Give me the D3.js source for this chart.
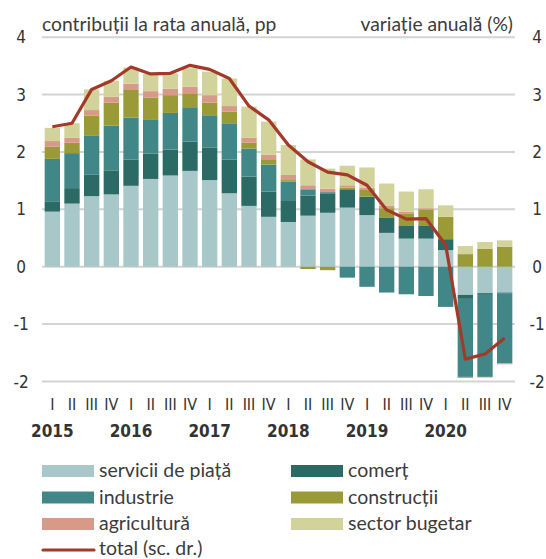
<!DOCTYPE html>
<html>
<head>
<meta charset="utf-8">
<script src="https://cdn.jsdelivr.net/npm/d3@7"></script>
<style>
  body { margin: 0; background: #fff; }
  text { fill: #333; }
  .tick-lbl { font-family: "Liberation Sans Narrow", "DejaVu Sans Condensed", sans-serif; }
  .ttl, .leg { font-family: Lato, "Open Sans", sans-serif; fill: #3c3c3c; }
</style>
</head>
<body>
<script>
var w = 546, h = 559;

var quarters = ["I","II","III","IV","I","II","III","IV","I","II","III","IV",
                "I","II","III","IV","I","II","III","IV","I","II","III","IV"];
var years = ["2015","2016","2017","2018","2019","2020"];

var servicii    = [0.96,1.10,1.23,1.26,1.41,1.53,1.59,1.67,1.51,1.28,1.06,0.87,0.78,0.89,0.94,1.03,0.90,0.59,0.49,0.49,0.29,-0.49,-0.46,-0.45];
var comert      = [0.17,0.27,0.38,0.42,0.46,0.44,0.45,0.51,0.57,0.59,0.51,0.44,0.38,0.35,0.34,0.32,0.32,0.27,0.22,0.22,0.19,-0.07,-0.03,-0.02];
var industrie   = [0.75,0.61,0.68,0.78,0.73,0.60,0.64,0.60,0.56,0.63,0.49,0.47,0.32,0.11,0.02,-0.19,-0.35,-0.45,-0.48,-0.51,-0.70,-1.36,-1.43,-1.21];
var constructii = [0.21,0.18,0.34,0.40,0.48,0.38,0.31,0.23,0.22,0.20,0.10,0.08,0.03,-0.04,-0.06,0.03,0.13,0.16,0.22,0.29,0.39,0.22,0.31,0.35];
var agricultura = [0.10,0.09,0.10,0.10,0.11,0.11,0.11,0.13,0.13,0.10,0.09,0.09,0.09,0.07,0.06,0.04,0.03,0.04,0.03,0.02,0.00,-0.02,-0.01,-0.02];
var buget       = [0.23,0.25,0.36,0.28,0.28,0.30,0.27,0.32,0.41,0.48,0.54,0.58,0.52,0.45,0.35,0.34,0.35,0.39,0.35,0.33,0.20,0.14,0.12,0.11];
var total       = [2.44,2.50,3.09,3.24,3.48,3.36,3.37,3.51,3.44,3.28,2.80,2.56,2.12,1.83,1.65,1.60,1.42,0.99,0.83,0.84,0.38,-1.61,-1.52,-1.24];

var yTicks = [4,3,2,1,0,-1,-2];

var series = [
  {key:"servicii", name:"servicii de piață", color:"#a7c7c8", vals:servicii},
  {key:"comert", name:"comerț", color:"#2c6a66", vals:comert},
  {key:"industrie", name:"industrie", color:"#428787", vals:industrie},
  {key:"constructii", name:"construcții", color:"#9a9b37", vals:constructii},
  {key:"agricultura", name:"agricultură", color:"#d89a88", vals:agricultura},
  {key:"buget", name:"sector bugetar", color:"#d2d29b", vals:buget}
];

// table for d3.stack
var rows = quarters.map(function(q, i){
  var r = {i:i};
  series.forEach(function(s){ r[s.key] = s.vals[i]; });
  return r;
});

var svg = d3.select("body").append("svg")
  .attr("width", w)
  .attr("height", h);

var x = d3.scaleBand()
  .domain(d3.range(quarters.length))
  .range([42.5, 514.5])
  .paddingInner(0.22)
  .paddingOuter(0.11);

var y = d3.scaleLinear().domain([-2, 4]).range([381.5, 37.2]);

// grid
svg.append("g").selectAll("line")
  .data(yTicks)
  .enter().append("line")
  .attr("x1", 42).attr("x2", 515)
  .attr("y1", function(d){ return y(d); })
  .attr("y2", function(d){ return y(d); })
  .style("stroke", "#d3d3d3")
  .style("stroke-width", 2);

// y labels left / right
svg.append("g").selectAll("text")
  .data(yTicks).enter().append("text")
  .attr("class", "tick-lbl")
  .attr("x", 21).attr("y", function(d){ return y(d) + 6; })
  .attr("text-anchor", "middle")
  .style("font-size", "17px")
  .text(function(d){ return d; });

svg.append("g").selectAll("text")
  .data(yTicks).enter().append("text")
  .attr("class", "tick-lbl")
  .attr("x", 537).attr("y", function(d){ return y(d) + 6; })
  .attr("text-anchor", "middle")
  .style("font-size", "17px")
  .text(function(d){ return d; });

// titles
svg.append("text").attr("class", "ttl")
  .attr("x", 42).attr("y", 31)
  .style("font-size", "19.3px")
  .text("contribuții la rata anuală, pp");
svg.append("text").attr("class", "ttl")
  .attr("x", 513).attr("y", 31)
  .attr("text-anchor", "end")
  .style("font-size", "19.3px")
  .text("variație anuală (%)");

// bars
var stack = d3.stack()
  .keys(series.map(function(s){ return s.key; }))
  .offset(d3.stackOffsetDiverging);
var stacked = stack(rows);

svg.append("g").selectAll("g")
  .data(stacked)
  .enter().append("g")
  .style("fill", function(d, i){ return series[i].color; })
  .selectAll("rect")
  .data(function(d){ return d; })
  .enter().append("rect")
  .attr("x", function(d){ return x(d.data.i); })
  .attr("width", x.bandwidth())
  .attr("y", function(d){ return y(Math.max(d[0], d[1])); })
  .attr("height", function(d){ return Math.abs(y(d[0]) - y(d[1])); });

// total line
var line = d3.line()
  .x(function(d, i){ return x(i) + x.bandwidth() / 2; })
  .y(function(d){ return y(d); });

svg.append("path")
  .datum(total)
  .attr("d", line)
  .style("fill", "none")
  .style("stroke", "#a33a29")
  .style("stroke-width", 3.2)
  .style("stroke-linejoin", "round");

// x labels
svg.append("g").selectAll("text")
  .data(quarters).enter().append("text")
  .attr("class", "tick-lbl")
  .attr("x", function(d, i){ return x(i) + x.bandwidth() / 2; })
  .attr("y", 410)
  .attr("text-anchor", "middle")
  .style("font-size", "16px")
  .text(function(d){ return d; });

svg.append("g").selectAll("text")
  .data(years).enter().append("text")
  .attr("class", "tick-lbl")
  .attr("x", function(d, i){ return x(i * 4) + x.bandwidth() / 2; })
  .attr("y", 437)
  .attr("text-anchor", "middle")
  .style("font-size", "17px")
  .style("font-weight", "bold")
  .text(function(d){ return d; });

// legend
var legPos = [
  {s:0, x:42, y:471}, {s:1, x:291, y:471},
  {s:2, x:42, y:497.5}, {s:3, x:291, y:497.5},
  {s:4, x:42, y:524}, {s:5, x:291, y:524}
];
var leg = svg.append("g");
legPos.forEach(function(p){
  var s = series[p.s];
  leg.append("rect")
    .attr("x", p.x).attr("y", p.y - 6)
    .attr("width", 52).attr("height", 12)
    .style("fill", s.color);
  leg.append("text").attr("class", "leg")
    .attr("x", p.x + 57).attr("y", p.y + 6)
    .style("font-size", "19.5px")
    .text(s.name);
});
leg.append("line")
  .attr("x1", 43).attr("x2", 94)
  .attr("y1", 550).attr("y2", 550)
  .style("stroke", "#a33a29")
  .style("stroke-width", 3.2)
  .style("stroke-linecap", "round");
leg.append("text").attr("class", "leg")
  .attr("x", 99).attr("y", 555)
  .style("font-size", "19.5px")
  .text("total (sc. dr.)");
</script>
</body>
</html>
